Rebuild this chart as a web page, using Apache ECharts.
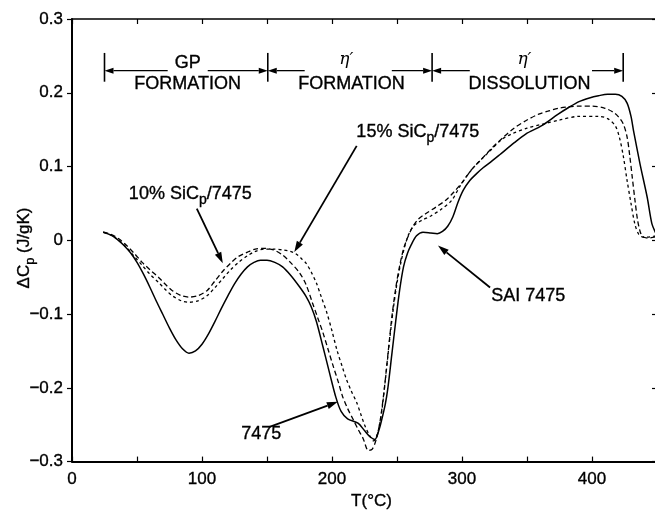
<!DOCTYPE html>
<html>
<head>
<meta charset="utf-8">
<script src="https://cdn.jsdelivr.net/npm/echarts@6/dist/echarts.min.js"></script>
<style>
html,body{margin:0;padding:0;overflow:hidden;background:#fff;}
#c{width:660px;height:515px;}
</style>
</head>
<body>
<div id="c"></div>
<script>
// ---- data ----
const xTicks = [0, 100, 200, 300, 400];
const yTicks = [-0.3, -0.2, -0.1, 0, 0.1, 0.2, 0.3];

const s7475 = [[24,0.011],[30,0.007],[35,0.001],[40,-0.007],[45,-0.017],[50,-0.03],[55,-0.046],[60,-0.064],[65,-0.083],[70,-0.101],[75,-0.119],[80,-0.135],[85,-0.147],[90,-0.153],[95,-0.150],[100,-0.141],[105,-0.127],[110,-0.110],[115,-0.092],[120,-0.075],[125,-0.059],[130,-0.046],[135,-0.036],[140,-0.030],[145,-0.027],[150,-0.027],[156,-0.030],[162,-0.036],[168,-0.047],[175,-0.063],[180,-0.076],[184,-0.09],[188,-0.11],[193,-0.144],[198,-0.179],[203,-0.213],[207,-0.232],[212,-0.242],[220,-0.248],[225,-0.258],[229,-0.266],[233,-0.27],[236,-0.258],[238,-0.245],[241,-0.222],[243,-0.2],[246,-0.155],[249,-0.11],[252,-0.068],[255,-0.036],[258,-0.018],[261,-0.006],[265,0.006],[270,0.011],[276,0.01],[281,0.009],[285,0.012],[289,0.019],[293,0.032],[297,0.052],[301,0.068],[306,0.081],[311,0.09],[316,0.098],[322,0.106],[329,0.116],[340,0.132],[349,0.144],[361,0.155],[374,0.171],[382,0.18],[390,0.188],[398,0.193],[405,0.196],[412,0.198],[418,0.198],[423,0.195],[427,0.186],[430,0.168],[432,0.148],[437,0.103],[442.5,0.058],[446,0.023],[449,0.01],[450,0.008]];

const s10 = [[24,0.011],[30,0.008],[36,0.002],[42,-0.007],[48,-0.018],[54,-0.03],[60,-0.04],[67,-0.051],[72,-0.06],[77,-0.068],[84,-0.075],[90,-0.077],[97,-0.075],[104,-0.068],[110,-0.055],[116,-0.042],[122,-0.031],[128,-0.022],[135,-0.016],[141,-0.012],[148,-0.011],[155,-0.013],[162,-0.02],[168,-0.03],[175,-0.044],[180,-0.06],[185,-0.085],[189,-0.105],[193,-0.125],[197,-0.148],[201,-0.171],[205,-0.193],[208,-0.211],[212,-0.228],[216,-0.242],[220,-0.256],[224,-0.269],[228,-0.285],[231,-0.283],[234,-0.27],[237,-0.245],[240,-0.205],[243,-0.155],[246,-0.105],[249,-0.065],[252,-0.035],[255,-0.012],[258,0.003],[262,0.018],[266,0.028],[272,0.036],[280,0.045],[288,0.055],[294,0.066],[300,0.078],[307,0.095],[315,0.11],[323,0.125],[332,0.14],[340,0.152],[350,0.163],[359,0.171],[366,0.175],[374,0.179],[382,0.181],[390,0.182],[400,0.182],[410,0.179],[416,0.174],[420,0.168],[424,0.158],[427,0.14],[429,0.115],[431,0.085],[433,0.055],[435,0.028],[437,0.012],[439,0.005],[443,0.003],[450,0.005]];

const s15 = [[24,0.011],[30,0.007],[36,0.0],[42,-0.01],[48,-0.022],[54,-0.034],[60,-0.046],[67,-0.058],[72,-0.067],[77,-0.075],[84,-0.082],[90,-0.084],[97,-0.082],[104,-0.075],[110,-0.064],[116,-0.052],[122,-0.04],[128,-0.03],[135,-0.021],[141,-0.015],[148,-0.012],[155,-0.012],[162,-0.013],[168,-0.015],[172,-0.018],[176,-0.024],[180,-0.031],[184,-0.043],[188,-0.058],[192,-0.078],[196,-0.098],[200,-0.123],[204,-0.15],[208,-0.172],[211,-0.188],[215,-0.205],[219,-0.22],[222,-0.235],[225,-0.25],[229,-0.265],[232,-0.272],[235,-0.262],[238,-0.235],[241,-0.19],[244,-0.14],[247,-0.095],[250,-0.058],[253,-0.03],[256,-0.008],[259,0.008],[263,0.02],[269,0.027],[276,0.033],[284,0.042],[292,0.054],[298,0.072],[304,0.088],[310,0.101],[315,0.11],[322,0.122],[330,0.136],[338,0.144],[350,0.152],[361,0.157],[375,0.163],[390,0.168],[405,0.168],[412,0.165],[418,0.155],[421,0.14],[424,0.115],[427,0.081],[430,0.05],[433,0.022],[436,0.008],[440,0.004],[450,0.006]];

const FONT = '"Liberation Sans", Arial, Helvetica, sans-serif';
const HEAVY = {textBorderColor: '#000', textBorderWidth: 0.35};

const chart = echarts.init(document.getElementById('c'), null, {renderer: 'canvas'});

function fmtY(v) {
  const r = Math.round(v * 10) / 10;
  if (!yTicks.some(t => Math.abs(t - r) < 1e-9) || Math.abs(v - r) > 1e-6) return '';
  if (Math.abs(r) < 1e-9) return '0';
  return (r < 0 ? '\u2212' : '') + Math.abs(r).toFixed(1);
}
function fmtX(v) {
  return xTicks.indexOf(Math.round(v)) >= 0 && Math.abs(v - Math.round(v)) < 1e-6 ? String(Math.round(v)) : '';
}

const lineCommon = {type: 'line', showSymbol: false, smooth: 0.3, animation: false, xAxisIndex: 0, yAxisIndex: 0};

chart.setOption({
  animation: false,
  backgroundColor: '#fff',
  grid: {left: 72, right: 3, top: 19, bottom: 50, containLabel: false},
  xAxis: [
    {type: 'value', min: 0, max: 450, interval: 50, position: 'bottom',
     axisLine: {show: true, onZero: false, lineStyle: {color: '#000', width: 2}},
     axisTick: {show: true, inside: true, length: 5, lineStyle: {color: '#000', width: 1.2}},
     axisLabel: Object.assign({formatter: fmtX, color: '#000', fontSize: 17, fontFamily: FONT, margin: 9, showMaxLabel: false}, HEAVY),
     splitLine: {show: false},
     name: 'T(\u00b0C)', nameLocation: 'middle', nameGap: 28,
     nameTextStyle: Object.assign({color: '#000', fontSize: 17, fontFamily: FONT, padding: [0, 0, 0, 14]}, HEAVY)},
    {type: 'value', min: 0, max: 450, interval: 50, position: 'top',
     axisLine: {show: true, onZero: false, lineStyle: {color: '#000', width: 1.6}},
     axisTick: {show: true, inside: true, length: 5, lineStyle: {color: '#000', width: 1.2}},
     axisLabel: {show: false}, splitLine: {show: false}}
  ],
  yAxis: [
    {type: 'value', min: -0.3, max: 0.3, interval: 0.1, position: 'left',
     axisLine: {show: true, onZero: false, lineStyle: {color: '#000', width: 2}},
     axisTick: {show: true, inside: false, length: 5, lineStyle: {color: '#000', width: 1.2}},
     axisLabel: Object.assign({formatter: fmtY, color: '#000', fontSize: 17, fontFamily: FONT, margin: 9}, HEAVY),
     splitLine: {show: false}},
    {type: 'value', min: -0.3, max: 0.3, interval: 0.1, position: 'right',
     axisLine: {show: true, onZero: false, lineStyle: {color: '#000', width: 1.6}},
     axisTick: {show: true, inside: true, length: 5, lineStyle: {color: '#000', width: 1.2}},
     axisLabel: {show: false}, splitLine: {show: false}}
  ],
  series: [
    Object.assign({}, lineCommon, {name: '7475', data: s7475, lineStyle: {color: '#000', width: 1.5, type: 'solid'}}),
    Object.assign({}, lineCommon, {name: '10% SiCp/7475', data: s10, lineStyle: {color: '#000', width: 1.3, type: [5, 3]}}),
    Object.assign({}, lineCommon, {name: '15% SiCp/7475', data: s15, lineStyle: {color: '#000', width: 1.3, type: [3, 3]}})
  ]
});

function P(t, v) { return chart.convertToPixel({xAxisIndex: 0, yAxisIndex: 0}, [t, v]); }

const g = [];
function seg(a, b, w) {
  g.push({type: 'line', shape: {x1: a[0], y1: a[1], x2: b[0], y2: b[1]}, style: {stroke: '#000', lineWidth: w || 1.5}, silent: true});
}
function arrow(a, b, len, hw, w) {
  len = len || 10; hw = hw || 3.5;
  const dx = b[0] - a[0], dy = b[1] - a[1], L = Math.hypot(dx, dy);
  const ux = dx / L, uy = dy / L;
  const base = [b[0] - ux * len, b[1] - uy * len];
  seg(a, base, w);
  g.push({type: 'polygon', shape: {points: [[b[0], b[1]], [base[0] - uy * hw, base[1] + ux * hw], [base[0] + uy * hw, base[1] - ux * hw]]},
          style: {fill: '#000'}, silent: true});
}
function txt(p, text, opts) {
  g.push({type: 'text', x: p[0], y: p[1], silent: true, rotation: (opts && opts.rotation) || 0,
    style: Object.assign({text: text, fill: '#000', fontSize: 18, fontFamily: FONT, align: 'center', verticalAlign: 'middle',
      stroke: '#000', lineWidth: 0.35}, opts && opts.style)});
}
const subRich = {p: {fontSize: 14, fontFamily: FONT, padding: [13, 0, 0, 0], fill: '#000', stroke: '#000', lineWidth: 0.35,
                     borderWidth: 0, borderColor: 'transparent', backgroundColor: 'transparent'}};
const ETA = {fontFamily: '"DejaVu Serif", "Liberation Serif", serif', fontStyle: 'italic', fontSize: 17, lineWidth: 0};

// header phase annotations
const yArr = 0.230, yBarTop = 0.254, yBarBot = 0.215;
[25, 150.6, 277, 424].forEach(t => seg(P(t, yBarTop), P(t, yBarBot), 1.6));
arrow(P(73.6, yArr), P(25, yArr), 9, 3, 1.3);
arrow(P(104.4, yArr), P(150.6, yArr), 9, 3, 1.3);
arrow(P(179, yArr), P(150.6, yArr), 9, 3, 1.3);
arrow(P(246, yArr), P(277, yArr), 9, 3, 1.3);
arrow(P(306, yArr), P(277, yArr), 9, 3, 1.3);
arrow(P(400, yArr), P(424, yArr), 9, 3, 1.3);
txt(P(89, 0.240), 'GP');
txt(P(89, 0.212), 'FORMATION');
txt(P(211, 0.245), '\u03b7\u2032', {style: ETA});
txt(P(215, 0.212), 'FORMATION');
txt(P(348, 0.245), '\u03b7\u2032', {style: ETA});
txt(P(352, 0.212), 'DISSOLUTION');

// curve labels
txt(P(91, 0.063), '10% SiC{p|p}/7475', {style: {rich: subRich}});
arrow(P(96, 0.043), P(116, -0.031), 11, 3.5, 1.8);
txt(P(266, 0.147), '15% SiC{p|p}/7475', {style: {rich: subRich}});
arrow(P(219, 0.128), P(171, -0.016), 11, 3.5, 1.8);
txt(P(351, -0.076), 'SAI 7475');
arrow(P(321.6, -0.064), P(281.5, -0.007), 11, 3.5, 1.8);
txt(P(145.5, -0.263), '7475');
arrow(P(152, -0.253), P(204.5, -0.219), 11, 3.5, 1.8);

// y axis title
txt([24, 248], '\u0394C{p|p} (J/gK)', {rotation: Math.PI / 2, style: {fontSize: 17,
  rich: {p: Object.assign({}, subRich.p, {fontSize: 13, padding: [12, 0, 0, 0]})}}});

chart.setOption({graphic: g});
</script>
</body>
</html>
